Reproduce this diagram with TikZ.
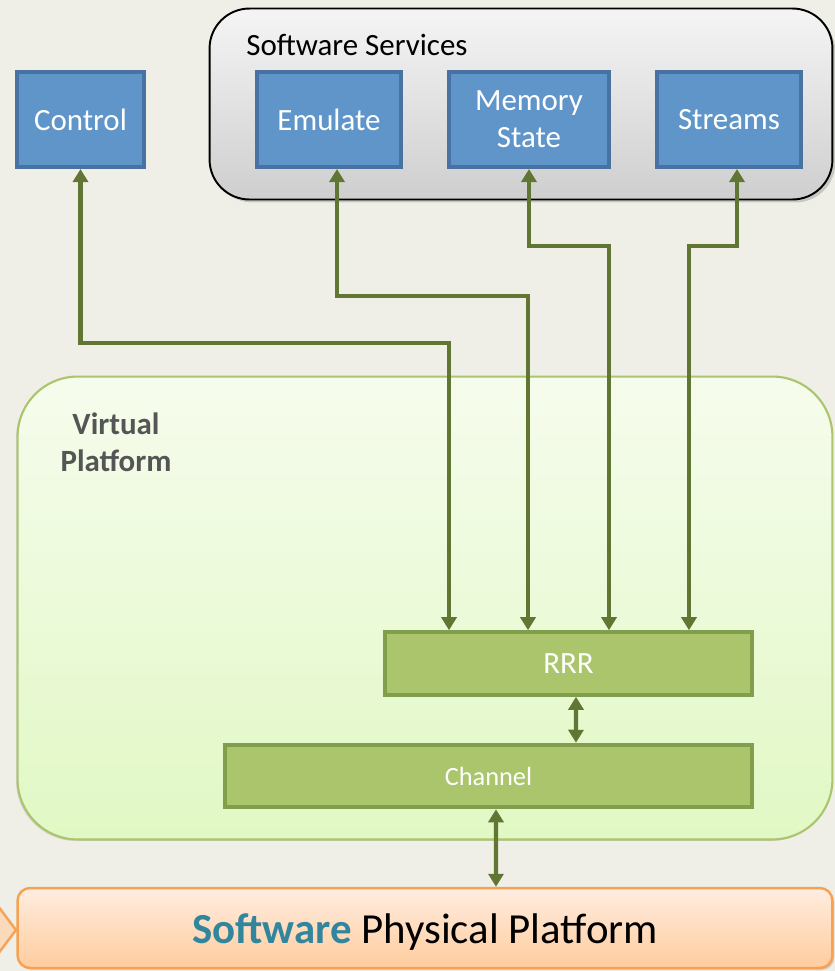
\documentclass[tikz,border=0pt]{standalone}
\usepackage{fontspec}
\setmainfont{Carlito}
\usepackage{xcolor}
\usetikzlibrary{arrows.meta,shadows,positioning}
\definecolor{fondo}{RGB}{240,239,231}
\definecolor{azulcaja}{RGB}{96,149,201}
\definecolor{azulborde}{RGB}{72,114,162}
\definecolor{verdecaja}{RGB}{170,197,108}
\definecolor{verdeborde}{RGB}{128,158,76}
\definecolor{flechaverde}{RGB}{98,118,52}
\definecolor{naranja}{RGB}{246,162,84}
\definecolor{azulverde}{RGB}{49,133,156}
\tikzset{
  servicio/.style={rectangle,fill=azulcaja,draw=azulborde,line width=2.3pt,
    text=white,align=center,minimum height=1.9cm,
    font=\fontsize{17.6}{21}\selectfont},
  bloque/.style={rectangle,fill=verdecaja,draw=verdeborde,line width=2.3pt,
    text=white,minimum height=1.25cm},
  marcogris/.style={rectangle,rounded corners=0.8cm,draw=black,line width=1.1pt,
    top color=gray!8,bottom color=gray!38,
    drop shadow={shadow xshift=0.06cm,shadow yshift=-0.06cm,opacity=0.35}},
  marcoverde/.style={rectangle,rounded corners=1.2cm,draw=verdecaja,line width=1.2pt,
    top color={rgb,255:red,246;green,252;blue,237},
    bottom color={rgb,255:red,225;green,248;blue,196},
    drop shadow={shadow xshift=-0.03cm,shadow yshift=-0.03cm,opacity=0.25}},
  marconaranja/.style={rectangle,rounded corners=0.25cm,draw=naranja,line width=1.4pt,
    top color={rgb,255:red,255;green,237;blue,224},
    bottom color={rgb,255:red,255;green,204;blue,158},
    drop shadow={shadow xshift=0.04cm,shadow yshift=-0.04cm,opacity=0.3}},
  flecha/.style={{Triangle[width=0.3cm,length=0.26cm]}-{Triangle[width=0.3cm,length=0.26cm]},
    flechaverde,line width=2.3pt}
}

\begin{document}
\begin{tikzpicture}[x=0.02cm,y=-0.02cm]
\useasboundingbox (0,0) rectangle (835,971);
\clip (0,0) rectangle (835,971);
\fill[fondo] (0,0) rectangle (835,971);
% contenedores
\node[marcogris,minimum width=12.46cm,minimum height=3.82cm] (serv) at (521,104) {};
\node[marcoverde,minimum width=16.3cm,minimum height=9.26cm] (virt) at (425,608) {};
\fill[naranja!40,draw=naranja,line width=1.4pt] (-5,902) -- (16,930) -- (-5,958) -- cycle;
\node[marconaranja,minimum width=16.3cm,minimum height=1.6cm] (fis) at (425,928) {};
\node[font=\fontsize{24.4}{29}\selectfont] at (425,932)
  {\textcolor{azulverde}{\textbf{Software}} Physical Platform};
\node[anchor=west,inner sep=0pt,font=\fontsize{17.6}{21}\selectfont] at (246,45) {Software Services};
\node[align=center,text={rgb,255:red,85;green,85;blue,85},
  font=\fontsize{17.6}{21}\selectfont\bfseries] at (116,442) {Virtual\\Platform};
% servicios
\node[servicio,minimum width=2.54cm] (ctrl) at (80.5,119.5) {Control};
\node[servicio,minimum width=2.88cm] (emu) at (329,119.5) {Emulate};
\node[servicio,minimum width=3.2cm] (mem) at (529,119.5) {Memory\\State};
\node[servicio,minimum width=2.88cm] (str) at (729,119.5) {Streams};
% bloques
\node[bloque,minimum width=7.34cm,font=\fontsize{17.6}{21}\selectfont] (rrr) at (568.5,663.5) {RRR};
\node[bloque,minimum width=10.54cm,font=\fontsize{15}{18}\selectfont] (chan) at (488.5,776) {Channel};
% enlaces
\draw[flecha] (ctrl.south) -- ++(0,174) -| ([xshift=-2.39cm]rrr.north);
\draw[flecha] ([xshift=0.16cm]emu.south) -- ++(0,127) -| ([xshift=-0.81cm]rrr.north);
\draw[flecha] (mem.south) -- ++(0,77) -| ([xshift=0.81cm]rrr.north);
\draw[flecha] ([xshift=0.16cm]str.south) -- ++(0,77) -| ([xshift=2.41cm]rrr.north);
\draw[flecha] ([xshift=0.15cm]rrr.south) -- ([xshift=1.75cm]chan.north);
\draw[flecha] ([xshift=0.15cm]chan.south) -- ([xshift=1.42cm]fis.north);
\end{tikzpicture}
\end{document}
